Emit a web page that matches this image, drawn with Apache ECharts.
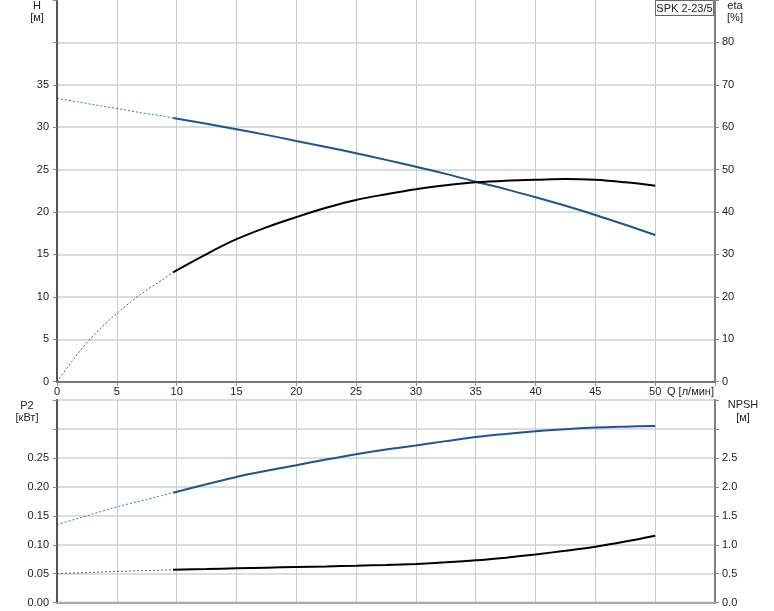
<!DOCTYPE html>
<html>
<head>
<meta charset="utf-8">
<script src="https://cdn.jsdelivr.net/npm/echarts@6/dist/echarts.min.js"></script>
<style>html,body{margin:0;padding:0;background:#fff}#c{width:774px;height:611px}</style>
</head>
<body>
<div id="c"></div>
<script>
// ---- data ----
var qDash = [0, 1.25, 2.5, 3.75, 5, 6.25, 7.5, 8.75, 9.7];
var hDash = [33.4, 33.1, 32.8, 32.5, 32.2, 31.9, 31.6, 31.35, 31.1];
var etaDash = [0, 4.8, 9.2, 12.9, 16.1, 19.0, 21.6, 23.9, 25.8];
var p2Dash = [0.135, 0.1425, 0.150, 0.158, 0.1655, 0.172, 0.178, 0.185, 0.19];
var npshDash = [0.505, 0.512, 0.52, 0.53, 0.54, 0.548, 0.555, 0.562, 0.569];

var qSolid = [9.7, 12.5, 15, 17.5, 20, 22.5, 25, 27.5, 30, 32.5, 35, 37.5, 40, 42.5, 45, 47.5, 50];
var hSolid = [31.1, 30.4, 29.76, 29.1, 28.38, 27.67, 26.93, 26.15, 25.35, 24.5, 23.58, 22.7, 21.75, 20.75, 19.66, 18.5, 17.3];
var etaSolid = [25.8, 30.1, 33.6, 36.4, 38.8, 41.0, 42.85, 44.2, 45.4, 46.3, 47.0, 47.4, 47.6, 47.8, 47.6, 47.0, 46.2];
var p2Solid = [0.19, 0.2045, 0.2172, 0.2277, 0.2374, 0.2472, 0.2564, 0.2645, 0.2715, 0.279, 0.2862, 0.2915, 0.296, 0.2995, 0.3024, 0.304, 0.3052];
var npshSolid = [0.569, 0.581, 0.593, 0.604, 0.616, 0.626, 0.638, 0.652, 0.670, 0.697, 0.731, 0.778, 0.834, 0.897, 0.966, 1.055, 1.155];

var xTicks = [0, 5, 10, 15, 20, 25, 30, 35, 40, 45, 50];
var title = 'SPK 2-23/5';

function pairs(xs, ys) { return xs.map(function (x, i) { return [x, ys[i]]; }); }

var FONT = 'Liberation Sans';
var BLUE = '#1d5491';
var lbl = { fontFamily: FONT, fontSize: 11, color: '#222' };
var HG = '#dcdcdc';
var hGridTop = { show: true, lineStyle: { color: [HG, HG, HG, HG, HG, HG, HG, HG, HG, 'rgba(0,0,0,0)'], width: 2 } };
var hGridBot = { show: true, lineStyle: { color: HG, width: 2 } };
var vGrid = { show: true, lineStyle: { color: '#cacaca', width: 1 } };

var chart = echarts.init(document.getElementById('c'), null, { renderer: 'canvas' });

function xAx(gi, showLabels, lineColor) {
  return {
    type: 'value', gridIndex: gi, min: 0, max: 55, interval: 5,
    axisLine: { show: true, onZero: false, lineStyle: { color: lineColor, width: 2 } },
    axisTick: { show: showLabels, length: 4, lineStyle: { color: '#888' } },
    axisLabel: Object.assign({ show: showLabels, margin: 5, formatter: function (v) { return xTicks.indexOf(v) >= 0 ? String(v) : ''; } }, lbl),
    splitLine: vGrid
  };
}

function txt(x, y, s, align) {
  return { type: 'text', x: x, y: y, style: { text: s, font: '11px ' + FONT, fill: '#222', align: align || 'center', verticalAlign: 'middle' } };
}

var smoothK = 0.35;

var option = {
  animation: false,
  grid: [
    { left: 57, right: 59, top: 0, height: 381.7, containLabel: false },
    { left: 57, right: 59, top: 400, height: 202.7, containLabel: false, show: true, borderColor: '#a0a0a0', borderWidth: 2, backgroundColor: 'transparent' }
  ],
  xAxis: [xAx(0, true, '#777'), xAx(1, false, '#aaa')],
  yAxis: [
    { type: 'value', gridIndex: 0, position: 'left', min: 0, max: 45, interval: 5,
      axisLine: { show: true, lineStyle: { color: '#555', width: 2 } },
      axisTick: { show: true, length: 4, lineStyle: { color: '#888' } },
      axisLabel: Object.assign({ margin: 8, formatter: function (v) { return v <= 35 ? String(v) : ''; } }, lbl),
      splitLine: hGridTop },
    { type: 'value', gridIndex: 0, position: 'right', min: 0, max: 90, interval: 10,
      axisLine: { show: true, lineStyle: { color: '#808080', width: 2 } },
      axisTick: { show: true, length: 4, lineStyle: { color: '#888' } },
      axisLabel: Object.assign({ margin: 7, formatter: function (v) { return v <= 80 ? String(v) : ''; } }, lbl),
      splitLine: { show: false } },
    { type: 'value', gridIndex: 1, position: 'left', min: 0, max: 0.35, interval: 0.05,
      axisLine: { show: true, lineStyle: { color: '#555', width: 2 } },
      axisTick: { show: true, length: 4, lineStyle: { color: '#888' } },
      axisLabel: Object.assign({ margin: 8, formatter: function (v) { return v <= 0.26 ? v.toFixed(2) : ''; } }, lbl),
      splitLine: hGridBot },
    { type: 'value', gridIndex: 1, position: 'right', min: 0, max: 3.5, interval: 0.5,
      axisLine: { show: true, lineStyle: { color: '#808080', width: 2 } },
      axisTick: { show: true, length: 4, lineStyle: { color: '#888' } },
      axisLabel: Object.assign({ margin: 7, formatter: function (v) { return v <= 2.6 ? v.toFixed(1) : ''; } }, lbl),
      splitLine: { show: false } }
  ],
  series: [
    { name: 'H dash', type: 'line', xAxisIndex: 0, yAxisIndex: 0, data: pairs(qDash, hDash), smooth: smoothK, symbol: 'none',
      lineStyle: { color: BLUE, width: 1, type: [2, 2], opacity: 0.8 } },
    { name: 'H', type: 'line', xAxisIndex: 0, yAxisIndex: 0, data: pairs(qSolid, hSolid), smooth: smoothK, symbol: 'none',
      lineStyle: { color: BLUE, width: 2 } },
    { name: 'eta dash', type: 'line', xAxisIndex: 0, yAxisIndex: 1, data: pairs(qDash, etaDash), smooth: smoothK, symbol: 'none',
      lineStyle: { color: '#333', width: 1, type: [2, 2], opacity: 0.8 } },
    { name: 'eta', type: 'line', xAxisIndex: 0, yAxisIndex: 1, data: pairs(qSolid, etaSolid), smooth: smoothK, symbol: 'none',
      lineStyle: { color: '#000', width: 2 } },
    { name: 'P2 dash', type: 'line', xAxisIndex: 1, yAxisIndex: 2, data: pairs(qDash, p2Dash), smooth: smoothK, symbol: 'none',
      lineStyle: { color: BLUE, width: 1, type: [2, 2], opacity: 0.8 } },
    { name: 'P2', type: 'line', xAxisIndex: 1, yAxisIndex: 2, data: pairs(qSolid, p2Solid), smooth: smoothK, symbol: 'none',
      lineStyle: { color: BLUE, width: 2 } },
    { name: 'NPSH dash', type: 'line', xAxisIndex: 1, yAxisIndex: 3, data: pairs(qDash, npshDash), smooth: smoothK, symbol: 'none',
      lineStyle: { color: '#333', width: 1, type: [2, 2], opacity: 0.8 } },
    { name: 'NPSH', type: 'line', xAxisIndex: 1, yAxisIndex: 3, data: pairs(qSolid, npshSolid), smooth: smoothK, symbol: 'none',
      lineStyle: { color: '#000', width: 2 } }
  ],
  graphic: [
    txt(37, 6, 'H'), txt(37, 18, '[м]'),
    txt(735, 6, 'eta'), txt(735, 18, '[%]'),
    txt(27, 406, 'P2'), txt(27, 418, '[кВт]'),
    txt(743, 405, 'NPSH'), txt(743, 418, '[м]'),
    txt(667, 392, 'Q [л/мин]', 'left'),
    { type: 'rect', x: 655.5, y: 0.5, shape: { width: 58, height: 15 }, style: { fill: '#fff', stroke: '#666', lineWidth: 1 }, z: 100 },
    { type: 'text', x: 684.5, y: 8.5, style: { text: title, font: '11px ' + FONT, fill: '#222', align: 'center', verticalAlign: 'middle' }, z: 101 }
  ]
};
chart.setOption(option);
</script>
</body>
</html>
